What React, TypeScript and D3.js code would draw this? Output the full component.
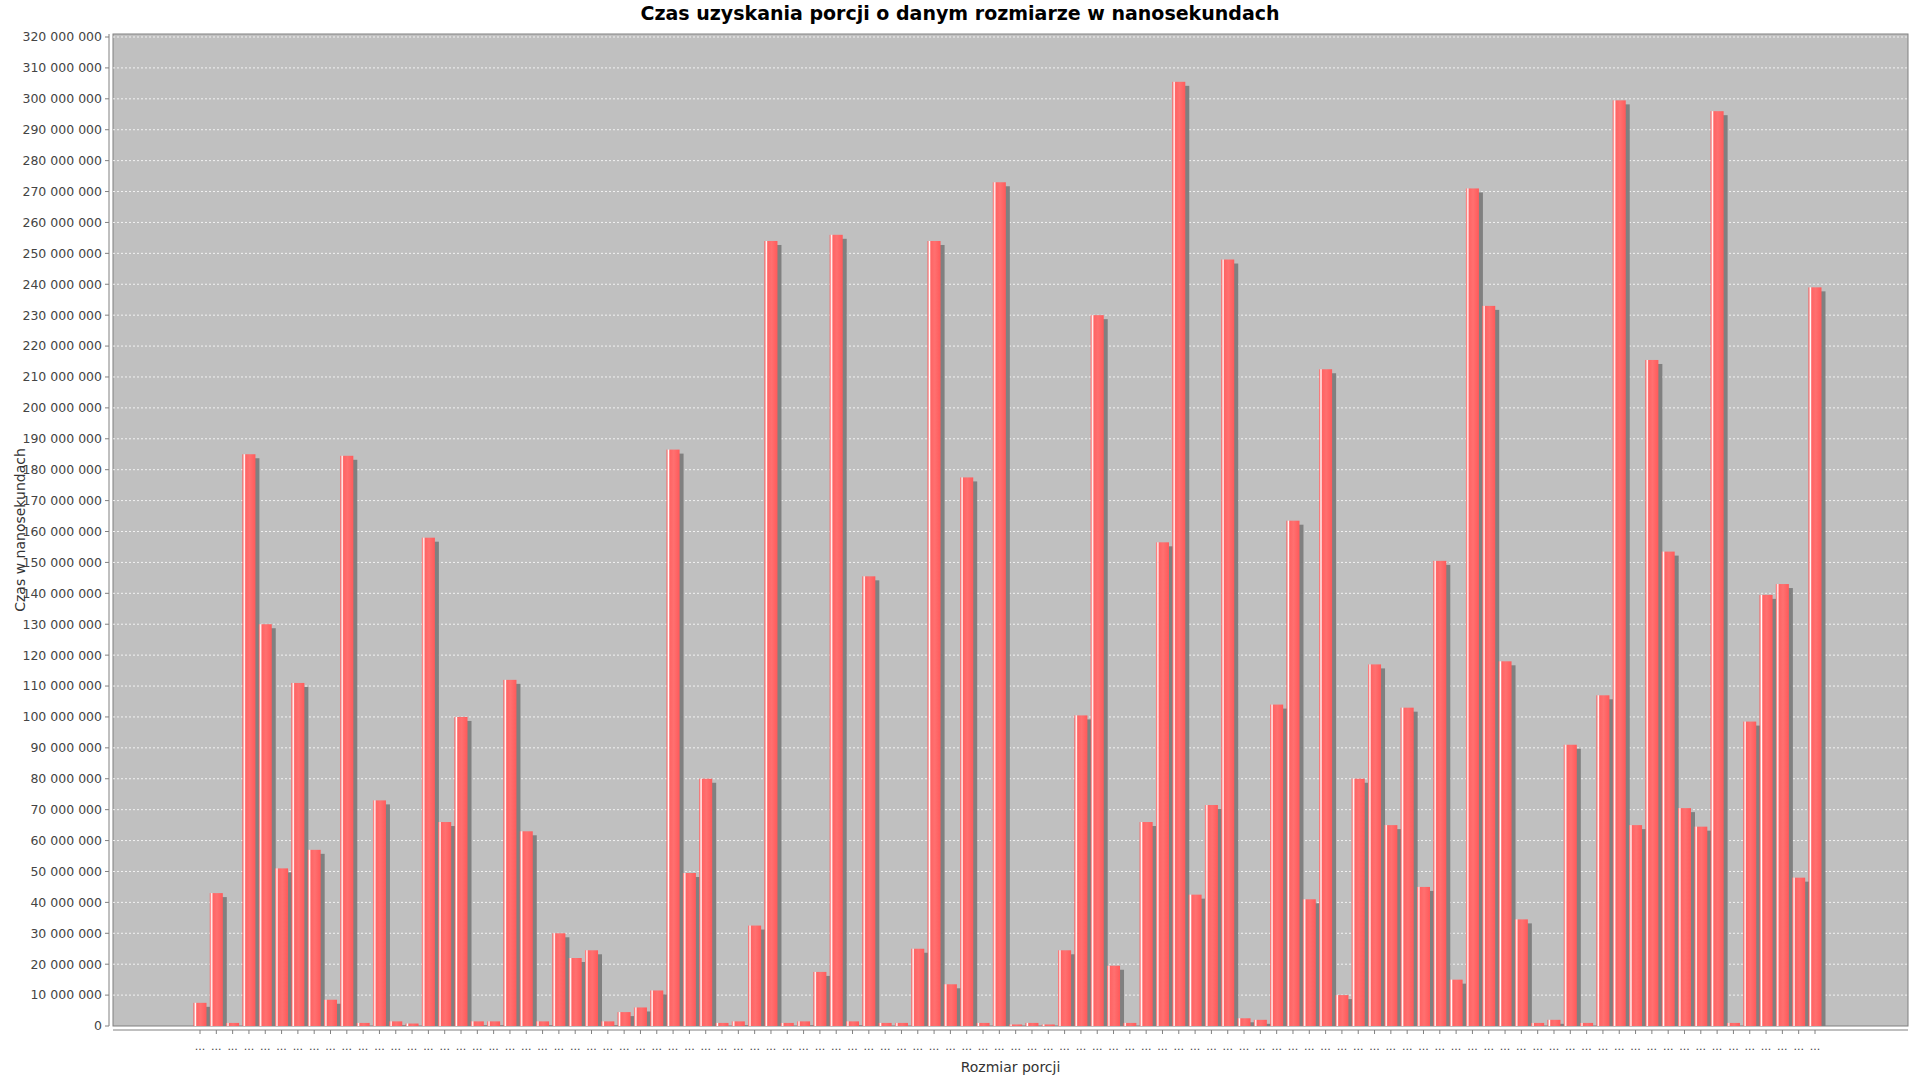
import React from "react";
import * as d3 from "d3";

const values: number[] = [
  7.5, 43, 1, 185, 130, 51, 111, 57, 8.5, 184.5,
  1, 73, 1.5, 0.8, 158, 66, 100, 1.5, 1.5, 112,
  63, 1.5, 30, 22, 24.5, 1.5, 4.5, 6, 11.5, 186.5,
  49.5, 80, 1, 1.5, 32.5, 254, 1, 1.5, 17.5, 256,
  1.5, 145.5, 1, 1, 25, 254, 13.5, 177.5, 1, 273,
  0.5, 1, 0.5, 24.5, 100.5, 230, 19.5, 1, 66, 156.5,
  305.5, 42.5, 71.5, 248, 2.5, 2, 104, 163.5, 41, 212.5,
  10, 80, 117, 65, 103, 45, 150.5, 15, 271, 233,
  118, 34.5, 1, 2, 91, 1, 107, 299.5, 65, 215.5,
  153.5, 70.5, 64.5, 296, 1, 98.5, 139.5, 143, 48, 239,
].map(v => v * 1e6);

const categories = values.map((_, i) => `${i}`);
const yTicks = d3.range(0, 320000001, 10000000);

const W = 1920, H = 1080;
const plot = { left: 113, top: 34, right: 1908, bottom: 1026 };

const fmt = (v: number) => d3.format(",")(v).replace(/,/g, " ");

export default function App() {
  const x = d3.scalePoint<string>().domain(categories).range([200, 1815]);
  const y = d3.scaleLinear().domain([0, 320000000]).range([plot.bottom, 37]);
  const bw = 13;
  const font = "DejaVu Sans, sans-serif";

  return (
    <svg width={W} height={H} style={{ position: "absolute", left: 0, top: 0, background: "#fff" }}>
      <defs>
        <linearGradient id="barGrad" x1="0" x2="1" y1="0" y2="0">
          <stop offset="0" stopColor="#ff5050" />
          <stop offset="0.15" stopColor="#ffffff" />
          <stop offset="0.25" stopColor="#ff6464" />
          <stop offset="0.55" stopColor="#ff7070" />
          <stop offset="1" stopColor="#ff5a5a" />
        </linearGradient>
      </defs>
      <text x={W / 2} y={20} textAnchor="middle" fontFamily={font} fontWeight="bold" fontSize={19}>
        Czas uzyskania porcji o danym rozmiarze w nanosekundach
      </text>
      <rect x={plot.left} y={plot.top} width={plot.right - plot.left} height={plot.bottom - plot.top} fill="#c0c0c0" stroke="#808080" />
      {yTicks.map(t => (
        <g key={t}>
          {t > 0 && (
            <line x1={plot.left} x2={plot.right} y1={y(t)} y2={y(t)} stroke="#ffffff" strokeWidth={0.8} strokeDasharray="2,2" />
          )}
          <line x1={105} x2={109} y1={y(t)} y2={y(t)} stroke="#808080" />
          <text x={102} y={y(t)} dy="0.35em" textAnchor="end" fontFamily={font} fontSize={12.5} fill="#444">
            {fmt(t)}
          </text>
        </g>
      ))}
      <line x1={109} x2={109} y1={plot.top} y2={plot.bottom} stroke="#808080" />
      {values.map((v, i) => {
        const cx = x(categories[i])!;
        const top = y(v);
        const h = plot.bottom - top;
        return (
          <g key={i}>
            <rect x={cx - bw / 2 + 4} y={Math.min(top + 4, plot.bottom)} width={bw} height={Math.max(0, h - 4)} fill="#808080" />
            <rect x={cx - bw / 2} y={top} width={bw} height={h} fill="url(#barGrad)" />
          </g>
        );
      })}
      <line x1={plot.left} x2={plot.right} y1={1030} y2={1030} stroke="#808080" />
      {categories.map(c => (
        <g key={c}>
          <line x1={x(c)!} x2={x(c)!} y1={1030} y2={1034} stroke="#808080" />
          <text x={x(c)!} y={1050} textAnchor="middle" fontFamily={font} fontSize={11} fill="#444">...</text>
        </g>
      ))}
      <text x={(plot.left + plot.right) / 2} y={1072} textAnchor="middle" fontFamily={font} fontSize={14} fill="#333">
        Rozmiar porcji
      </text>
      <text transform={`translate(25,${(plot.top + plot.bottom) / 2}) rotate(-90)`} textAnchor="middle" fontFamily={font} fontSize={14} fill="#333">
        Czas w nanosekundach
      </text>
    </svg>
  );
}
